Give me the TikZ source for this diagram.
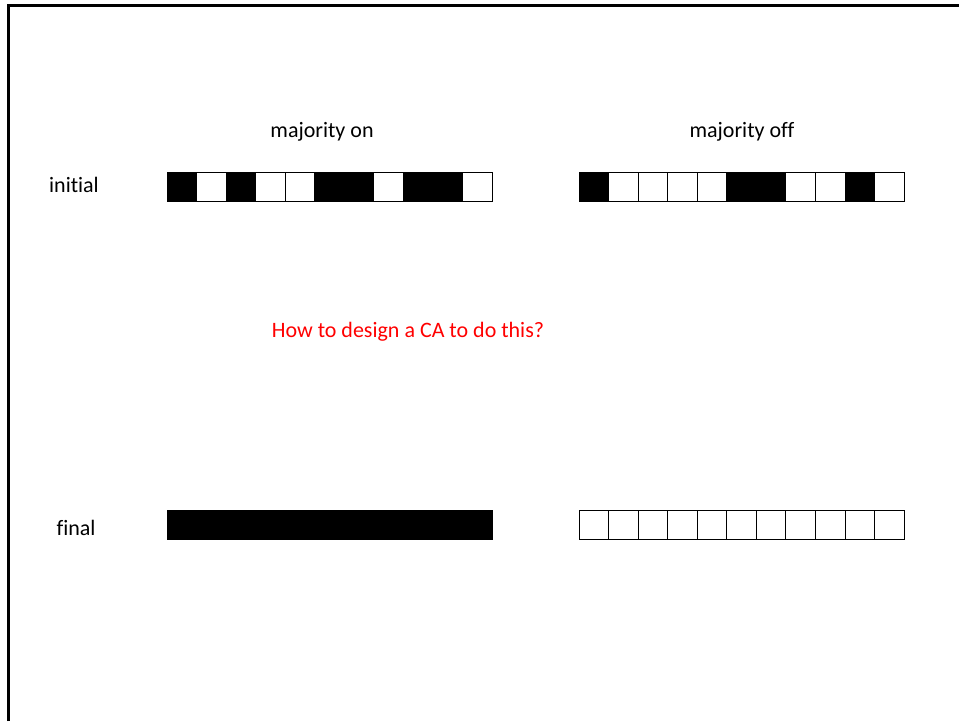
\documentclass[tikz,border=0pt]{standalone}
\usepackage{fontspec}
\setmainfont[Ligatures=NoCommon]{Carlito}
\usepackage{xcolor}
\usetikzlibrary{positioning}

\begin{document}
\begin{tikzpicture}[x=1pt, y=-1pt,
  cell/.style={
    draw, line width=0.9pt, minimum width=29.55pt, minimum height=29pt,
    inner sep=0pt, outer sep=0pt
  },
  oncell/.style={cell, fill=black},
  offcell/.style={cell, fill=white},
  label/.style={font=\fontsize{22}{24}\selectfont, text=black},
  question/.style={font=\fontsize{22}{24}\selectfont, text=red}
]
\useasboundingbox (0,0) rectangle (959,721);

% --- Frame (top and left edges only) ---
\draw[line width=3pt] (8,721) -- (8,5) -- (959,5);

% --- Cell rows ---
\def\W{29.55}
% initial, majority on
\foreach \s [count=\i] in {1,0,1,0,0,1,1,0,1,1,0} {
  \ifnum\s=1
    \node[oncell] (ion\i) at ({167+\W*(\i-0.5)},186.5) {};
  \else
    \node[offcell] (ion\i) at ({167+\W*(\i-0.5)},186.5) {};
  \fi
}
% initial, majority off
\foreach \s [count=\i] in {1,0,0,0,0,1,1,0,0,1,0} {
  \ifnum\s=1
    \node[oncell] (ioff\i) at ({579+\W*(\i-0.5)},186.5) {};
  \else
    \node[offcell] (ioff\i) at ({579+\W*(\i-0.5)},186.5) {};
  \fi
}
% final rows
\foreach \i in {1,...,11} {
  \node[oncell] (fon\i) at ({167+\W*(\i-0.5)},525) {};
  \node[offcell] (foff\i) at ({579+\W*(\i-0.5)},525) {};
}

% --- Labels ---
\node[label] (hon) at (322,132) {majority on};
\node[label] (hoff) at (742,132) {majority off};
\node[label] (initial) at (74,185) {initial};
\node[label] (final) at (76,528) {final};
\node[question] (ask) at (408,332) {How to design a CA to do this?};

\end{tikzpicture}
\end{document}
